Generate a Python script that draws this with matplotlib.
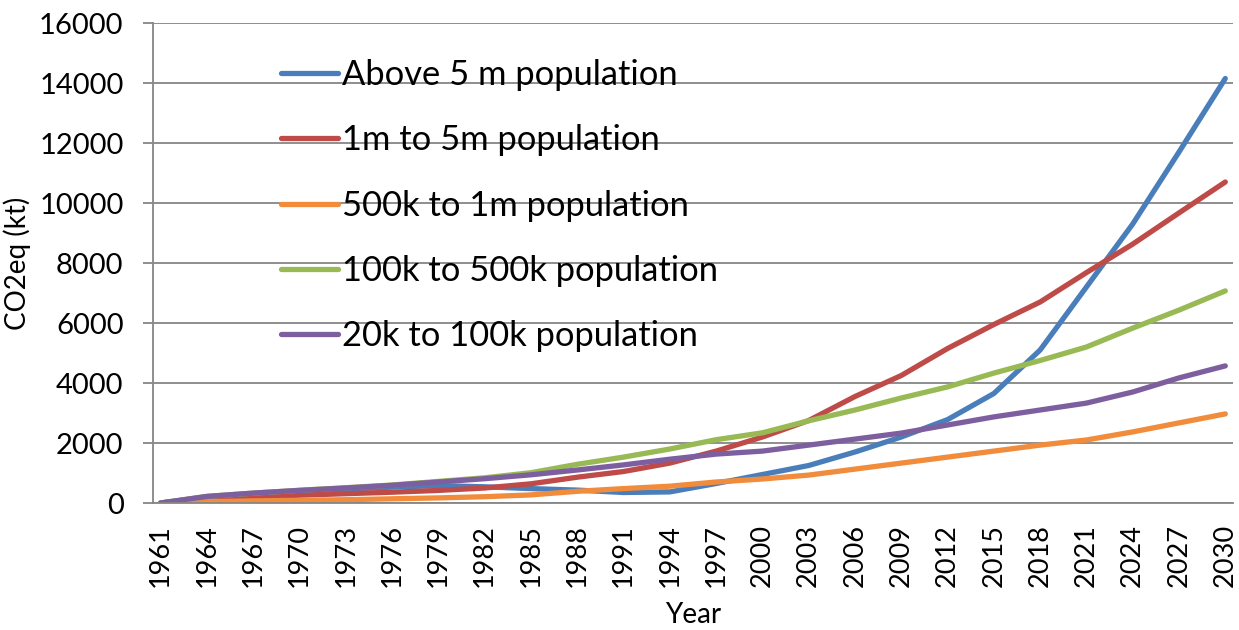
import matplotlib
matplotlib.use('Agg')
import matplotlib.pyplot as plt
import numpy as np

plt.rcParams['font.family'] = ['Lato', 'DejaVu Sans']

years = list(range(1961, 2031, 3))
tick_years = list(range(1961, 2031, 3))

above_5m = [0, 200, 300, 390, 460, 530, 580, 540, 480, 430, 350, 370,
            650, 950, 1250, 1700, 2200, 2780, 3650, 5100, 7200, 9300, 11700, 14150]
m1_to_5m = [0, 140, 200, 260, 310, 360, 420, 500, 640, 860, 1050, 1330,
            1730, 2200, 2750, 3550, 4250, 5150, 5950, 6700, 7680, 8630, 9670, 10700]
k500_to_1m = [0, 45, 70, 90, 110, 140, 170, 210, 270, 390, 480, 560,
              700, 800, 930, 1130, 1330, 1530, 1730, 1930, 2100, 2370, 2670, 2970]
k100_to_500k = [0, 220, 330, 425, 510, 600, 720, 840, 1010, 1290, 1530, 1800,
                2110, 2340, 2740, 3100, 3500, 3870, 4330, 4750, 5200, 5830, 6430, 7070]
k20_to_100k = [0, 220, 330, 420, 500, 590, 700, 810, 940, 1100, 1270, 1460,
               1630, 1730, 1930, 2130, 2330, 2600, 2870, 3100, 3330, 3700, 4170, 4570]

labels = ['Above 5 m population', '1m to 5m population', '500k to 1m population',
          '100k to 500k population', '20k to 100k population']
colors = ['#4A7EBB', '#BE4B48', '#F08C3C', '#98B954', '#7D5FA0']
series = [above_5m, m1_to_5m, k500_to_1m, k100_to_500k, k20_to_100k]

fig = plt.figure(figsize=(12.39, 6.30), dpi=100)
ax = fig.add_axes([153 / 1239, 1 - 503 / 630, (1233 - 153) / 1239, (503 - 23) / 630])

for ys, lab, c in zip(series, labels, colors):
    ax.plot(years, ys, color=c, lw=3.8, label=lab,
            solid_capstyle='round', solid_joinstyle='round')

ax.set_xlim(1960.5, 2030.5)
ax.set_ylim(0, 16000)
ax.set_yticks(np.arange(0, 16001, 2000))
ax.set_xticks(tick_years)
ax.set_xticklabels([str(y) for y in tick_years], rotation=90, fontsize=19.5)
ax.tick_params(axis='y', labelsize=21, length=7.2, width=1.3, color='#868686', pad=14)
ax.tick_params(axis='x', length=0, pad=15)

ax.grid(axis='y', color='#868686', lw=1.3)
ax.set_axisbelow(True)
for s in ['top', 'right']:
    ax.spines[s].set_visible(False)
for s in ['left', 'bottom']:
    ax.spines[s].set_color('#868686')
    ax.spines[s].set_linewidth(1.3)

ax.set_ylabel('CO2eq (kt)', fontsize=20, labelpad=6)
ax.set_xlabel('Year', fontsize=20, labelpad=11)

ax.legend(loc='upper left', bbox_to_anchor=(0.09, 0.99), frameon=False,
          fontsize=24.8, handlelength=1.66, handletextpad=0.1, labelspacing=0.97)

fig.savefig('out.png', dpi=100)
